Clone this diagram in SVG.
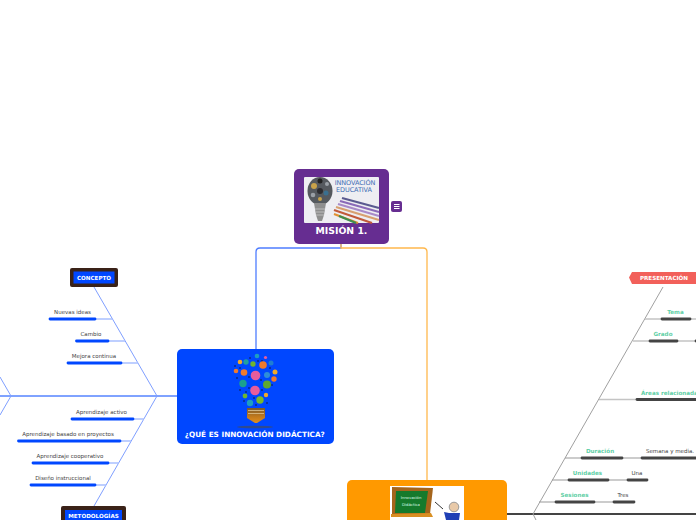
<svg xmlns="http://www.w3.org/2000/svg" width="696" height="520" viewBox="0 0 696 520">
<style>
text{font-family:"DejaVu Sans","Liberation Sans",sans-serif;text-anchor:middle}
.t{font-size:5.500px;fill:#444}
.h{font-size:5.600px;font-weight:bold;fill:#5fcfa6}
.w{font-weight:bold;fill:#fff}
.bl{stroke:#0047ff;stroke-width:2.800;stroke-linecap:round;fill:none}
.bs{stroke:#a9c0ff;stroke-width:1.600;fill:none}
.bd{stroke:#7f9fff;stroke-width:1;fill:none}
.dk{stroke:#444;stroke-width:2.800;stroke-linecap:round;fill:none}
.ds{stroke:#c4c4c4;stroke-width:1.600;fill:none}
.dg{stroke:#a0a0a0;stroke-width:1;fill:none}
.p{stroke-width:2.200;fill:none}
</style>
<defs>
<linearGradient id="cap" x1="0" y1="0" x2="0" y2="1"><stop offset="0" stop-color="#7a5a2a"/><stop offset=".6" stop-color="#c47a1c"/><stop offset="1" stop-color="#e09020"/></linearGradient>
</defs>
<rect width="696" height="520" fill="#fff"/>
<g id="connectors">
<path d="M341 244V248H260Q256 248 256 252V349" fill="none" stroke="#4f7dff" stroke-width="1.300"/>
<path d="M341 244V248H423Q427 248 427 252V480" fill="none" stroke="#ffb84d" stroke-width="1.300"/>
<path d="M0 396H177" fill="none" stroke="#0047ff" stroke-width="1"/>
<path class="bd" d="M94 287L157 396L94 506"/>
<path class="bd" d="M0 377L11 396L0 415"/>
<path class="bs" d="M96 319H112M109 341H125M122 363H138M134 419H144M121 441H131M109 463H119M96 485H106"/>
<path d="M507 514H696" fill="none" stroke="#444" stroke-width="2"/>
<path class="dg" d="M663 287L533 514L536 520"/>
<path class="ds" d="M645 319H661M691 319H696M633 341H649M678 341H695M599 399.500H636"/>
<path class="ds" style="stroke-width:1.100;stroke:#999" d="M565 458H581M623 458H641M552 480H568M609 480H627M539 502H555M595 502H613"/>
</g>
<g id="node-mision">
<rect x="294" y="169" width="95" height="75" rx="5" fill="#662d91"/>
<rect x="304" y="177" width="75" height="46" rx="1" fill="#eeeef2"/>
<ellipse cx="320" cy="191" rx="12.500" ry="14" fill="#55595e"/>
<path d="M314 203H326L324 215L322 221H318L316 215Z" fill="#8e8e8e"/>
<path d="M315 209H325M316 212H324M316 215H324" stroke="#ddd" stroke-width=".6"/>
<circle cx="314" cy="186" r="3" fill="#c8a24a"/><circle cx="326" cy="193" r="2.500" fill="#3a6f8f"/><circle cx="320" cy="181" r="2.500" fill="#222"/><circle cx="320" cy="191" r="3" fill="#2c2c30"/><circle cx="327" cy="184" r="2" fill="#9aa0a6"/><circle cx="313" cy="195" r="2.300" fill="#9aa0a6"/><circle cx="320" cy="199" r="2" fill="#c8a24a"/>
<path class="p" stroke="#5a5a90" d="M342 198L379 208"/><path class="p" stroke="#8a6ab8" d="M340 201L379 212"/><path class="p" stroke="#a88ac8" d="M338 204L379 216"/><path class="p" stroke="#d8a070" d="M336 207L379 220"/><path class="p" stroke="#c25a3a" d="M334 210L372 223"/><path class="p" stroke="#e09030" d="M334 214L358 223"/><path class="p" stroke="#3f8d4f" d="M339 216L356 223"/>
<text x="355" y="184.500" style="font-size:6.500px;letter-spacing:-.1px" fill="#3f6fb5">INNOVACIÓN</text>
<text x="354" y="191.500" style="font-size:6.500px;letter-spacing:-.1px" fill="#3f6fb5">EDUCATIVA</text>
<text x="341.500" y="234" class="w" style="font-size:9.300px">MISIÓN 1.</text>
<rect x="391" y="201" width="11" height="11" rx="2" fill="#662d91"/>
<path d="M394 204.500H399.500M394 206.500H399.500M394 208.500H399.500" stroke="#fff" stroke-width="1"/>
</g>
<g id="node-innovacion">
<rect x="177" y="349" width="157" height="95" rx="5" fill="#0047ff"/>
<g fill="#0a2a8a"><circle cx="240" cy="368" r="1"/><circle cx="250" cy="358" r="1"/><circle cx="262" cy="361" r="1"/><circle cx="270" cy="368" r="1"/><circle cx="249" cy="377" r="1"/><circle cx="261" cy="380" r="1"/><circle cx="237" cy="378" r="1"/><circle cx="272" cy="385" r="1"/><circle cx="249" cy="388" r="1"/><circle cx="262" cy="390" r="1"/><circle cx="240" cy="390" r="1"/><circle cx="254" cy="398" r="1"/><circle cx="244" cy="401" r="1"/><circle cx="267" cy="403" r="1"/><circle cx="256" cy="405" r="1"/><circle cx="235" cy="366" r="1"/><circle cx="258" cy="361" r="1"/><circle cx="246" cy="392" r="1"/></g>
<circle cx="255.500" cy="375.500" r="4.800" fill="#e85d9c"/><circle cx="255" cy="390.500" r="4.800" fill="#e85d9c"/><circle cx="267" cy="384.500" r="4" fill="#5fa82e"/><circle cx="243" cy="383.500" r="3.700" fill="#1aa18e"/><circle cx="263" cy="365" r="3.800" fill="#f07a2c"/><circle cx="244" cy="372.500" r="3.300" fill="#f07a2c"/><circle cx="253" cy="364" r="2.700" fill="#6fb52e"/><circle cx="246" cy="362" r="2.700" fill="#20a0a0"/><circle cx="240" cy="362" r="2.300" fill="#f0a92c"/><circle cx="236" cy="371" r="2.300" fill="#f07a2c"/><circle cx="275" cy="372" r="2.500" fill="#f0a92c"/><circle cx="274" cy="379" r="2.700" fill="#f07a2c"/><circle cx="267" cy="375" r="3" fill="#2f8ed8"/><circle cx="271" cy="363" r="2.500" fill="#1f7fd0"/><circle cx="257" cy="356" r="2.300" fill="#1f9fc0"/><circle cx="265.500" cy="357.500" r="1.600" fill="#e85d9c"/><circle cx="260" cy="400" r="3.700" fill="#7ab82e"/><circle cx="250" cy="403" r="3.200" fill="#1f9fc0"/><circle cx="245" cy="396" r="2.400" fill="#6fb52e"/><circle cx="266" cy="395" r="2.200" fill="#f0a92c"/>
<path d="M247 408H265V418L257 423H255L247 418Z" fill="url(#cap)"/><path d="M248 410.500H264M248 413.500H264" stroke="#e8d0a0" stroke-width=".7"/>
<ellipse cx="255" cy="427" rx="18" ry="1.300" fill="#2f4a90"/>
<text x="254.800" y="437" class="w" style="font-size:7.300px">¿QUÉ ES INNOVACIÓN DIDÁCTICA?</text>
</g>
<g id="node-concepto">
<rect x="70" y="268" width="48" height="19" rx="2" fill="#3a2218"/>
<rect x="73.500" y="271.500" width="41" height="12" fill="#0047ff"/>
<text x="94" y="280" class="w" style="font-size:5.600px">CONCEPTO</text>
</g>
<g id="node-nuevas"><path class="bl" d="M50 319H95"/><text x="72.500" y="314" class="t">Nuevas ideas</text></g>
<g id="node-cambio"><path class="bl" d="M76.500 341H108"/><text x="91" y="336" class="t">Cambio</text></g>
<g id="node-mejora"><path class="bl" d="M68 363H121"/><text x="94" y="358" class="t">Mejora continua</text></g>
<g id="node-activo"><path class="bl" d="M72 419H133"/><text x="101.500" y="414" class="t">Aprendizaje activo</text></g>
<g id="node-basado"><path class="bl" d="M18.500 441H120"/><text x="68" y="436" class="t">Aprendizaje basado en proyectos</text></g>
<g id="node-cooperativo"><path class="bl" d="M33 463H108"/><text x="70" y="458" class="t">Aprendizaje cooperativo</text></g>
<g id="node-diseno"><path class="bl" d="M31 485H95"/><text x="63" y="480" class="t">Diseño instruccional</text></g>
<g id="node-metodologias">
<rect x="61" y="506" width="65" height="20" rx="2" fill="#3a2218"/>
<rect x="65" y="510" width="57" height="12" fill="#0047ff"/>
<text x="93.500" y="517.500" class="w" style="font-size:5.600px">METODOLOGÍAS</text>
</g>
<g id="node-mision2">
<rect x="347" y="480" width="160" height="50" rx="5" fill="#ff9900"/>
<rect x="390" y="486" width="74" height="34" fill="#fff"/>
<path d="M392 487L433 488L430 514L392 515Z" fill="#a5651c"/>
<path d="M396 491L428 491L425 513H395Z" fill="#157a2c"/>
<path d="M391 514L431 513L433 517H391Z" fill="#d98f22"/>
<text x="411" y="498.500" style="font-size:3.800px" fill="#dfe">Innovación</text>
<text x="411" y="505.500" style="font-size:3.800px" fill="#dfe">Didáctica</text>
<path d="M435 502L443 509" stroke="#333" stroke-width="1"/>
<circle cx="454" cy="507" r="4.800" fill="#e8c9a8" stroke="#999" stroke-width="1"/>
<path d="M444 512L449 513L460 513L459 520H446Z" fill="#1f3fb5"/>
</g>
<g id="node-presentacion">
<path d="M629 277.500L632 272H696V284H632Z" fill="#f2605a"/>
<text x="664" y="280" class="w" style="font-size:5.600px">PRESENTACIÓN</text>
</g>
<g id="node-tema"><path class="dk" d="M662 319H690"/><text x="675.500" y="314" class="h">Tema</text></g>
<g id="node-grado"><path class="dk" d="M650 341H677M696 341H697"/><text x="663" y="336" class="h">Grado</text></g>
<g id="node-areas"><path class="dk" d="M637 399.500H697"/><text x="641" y="395" class="h" style="text-anchor:start">Áreas relacionadas</text></g>
<g id="node-duracion"><path class="dk" d="M582 458H622"/><text x="600" y="453" class="h">Duración</text></g>
<g id="node-semana"><path class="dk" d="M642 458H697"/><text x="670" y="453" class="t">Semana y media.</text></g>
<g id="node-unidades"><path class="dk" d="M569 480H608"/><text x="587.500" y="475" class="h">Unidades</text></g>
<g id="node-una"><path class="dk" d="M628 480H647"/><text x="637" y="475" class="t">Una</text></g>
<g id="node-sesiones"><path class="dk" d="M556 502H594"/><text x="574.500" y="497" class="h">Sesiones</text></g>
<g id="node-tres"><path class="dk" d="M614 502H634"/><text x="623" y="497" class="t">Tres</text></g>
</svg>
